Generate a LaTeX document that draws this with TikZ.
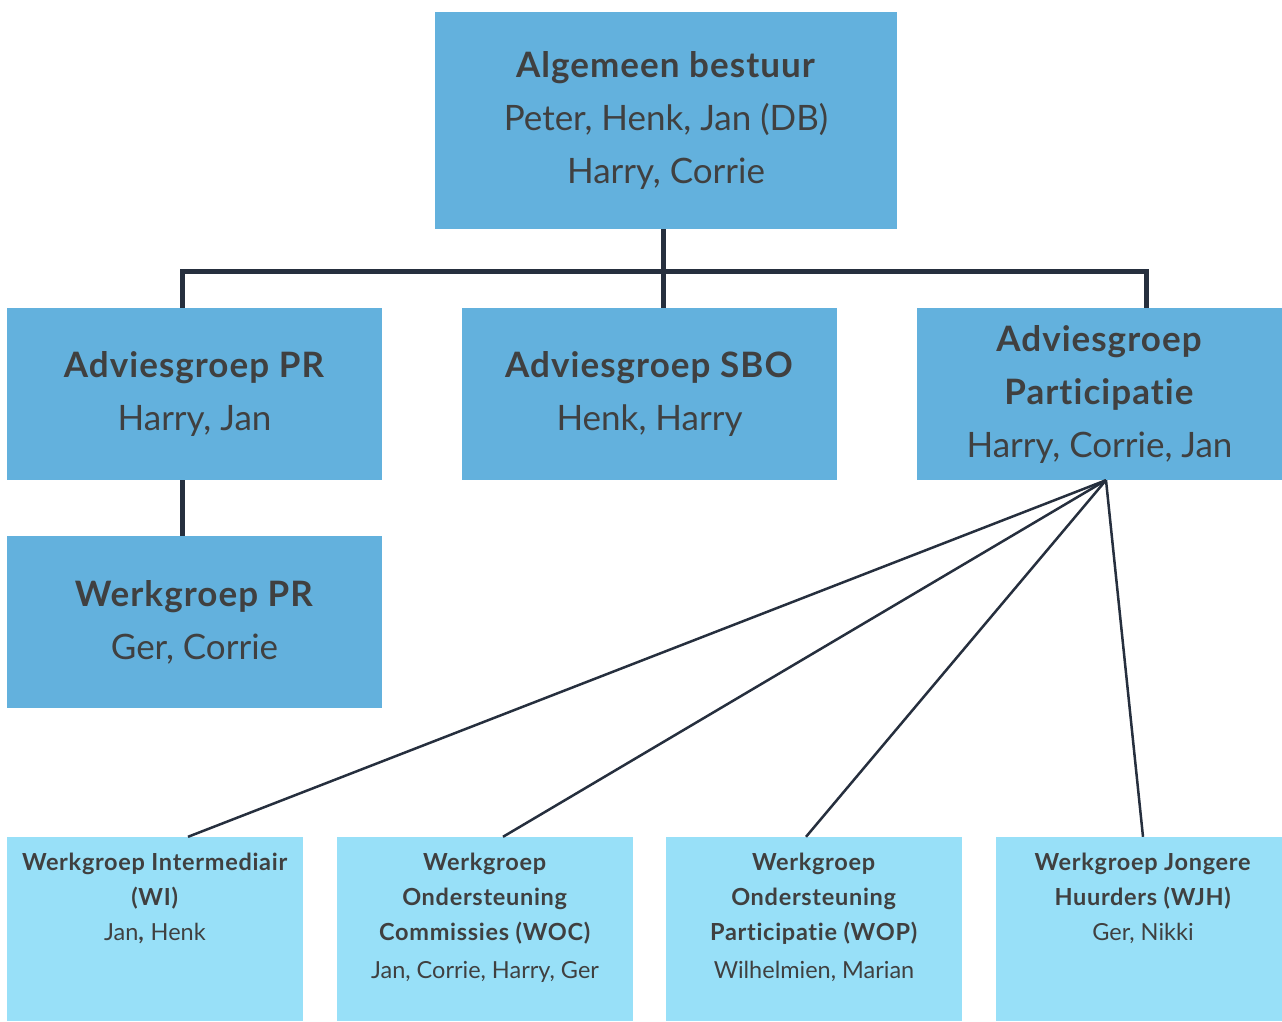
\documentclass[tikz,border=0pt]{standalone}
\usepackage{fontspec}
\setmainfont{Lato}[Ligatures=NoCommon,BoldFeatures={LetterSpace=3}]
\definecolor{topfill}{HTML}{63B1DD}
\definecolor{lowfill}{HTML}{98E0F8}
\definecolor{txt}{HTML}{404040}
\definecolor{ln}{HTML}{262F3E}
\begin{document}
\begin{tikzpicture}[x=1pt,y=-1pt,
  topbox/.style={fill=topfill,draw=none,inner sep=0pt,align=center,text=txt,
    font=\fontsize{35}{53}\selectfont},
  lowbox/.style={fill=lowfill,draw=none,inner sep=0pt},
  lowtext/.style={inner sep=0pt,anchor=north,align=center,text=txt,
    font=\fontsize{23.5}{35}\selectfont},
  thick line/.style={draw=ln,line width=5pt},
  thin line/.style={draw=ln,line width=2.5pt}]
\useasboundingbox (0,0) rectangle (1282,1021);
% top level
\node[topbox,minimum width=462,minimum height=217] (ab) at (666,120.5)
  {\textbf{Algemeen bestuur}\\Peter, Henk, Jan (DB)\\Harry, Corrie};
\node[topbox,minimum width=375,minimum height=172] (pr) at (194.5,394)
  {\textbf{Adviesgroep PR}\\Harry, Jan};
\node[topbox,minimum width=375,minimum height=172] (sbo) at (649.5,394)
  {\textbf{Adviesgroep SBO}\\Henk, Harry};
\node[topbox,minimum width=365,minimum height=172] (pa) at (1099.5,394)
  {\textbf{Adviesgroep}\\\textbf{Participatie}\\Harry, Corrie, Jan};
\node[topbox,minimum width=375,minimum height=172] (wpr) at (194.5,622)
  {\textbf{Werkgroep PR}\\Ger, Corrie};
% bottom boxes
\node[lowbox,minimum width=296,minimum height=184] (wi) at (155,929) {};
\node[lowbox,minimum width=296,minimum height=184] (woc) at (485,929) {};
\node[lowbox,minimum width=296,minimum height=184] (wop) at (814,929) {};
\node[lowbox,minimum width=286,minimum height=184] (wjh) at (1139,929) {};
\node[lowtext] (wi-t) at (155,853)
  {\textbf{Werkgroep Intermediair}\\\textbf{(WI)}\\Jan\textbf{,} Henk};
\node[lowtext] (woc-t) at (485,853)
  {\textbf{Werkgroep}\\\textbf{Ondersteuning}\\\textbf{Commissies (WOC)}\\[3pt]Jan, Corrie, Harry, Ger};
\node[lowtext] (wop-t) at (814,853)
  {\textbf{Werkgroep}\\\textbf{Ondersteuning}\\\textbf{Participatie (WOP)}\\[3pt]Wilhelmien, Marian};
\node[lowtext] (wjh-t) at (1143,853)
  {\textbf{Werkgroep Jongere}\\\textbf{Huurders (WJH)}\\Ger, Nikki};
% connectors
\coordinate (barL) at (182,271);
\coordinate (barM) at (663,271);
\coordinate (barR) at (1146,271);
\draw[thick line] (ab.south -| barM) -- (sbo.north -| barM);
\draw[thick line] (pr.north -| barL) -- (barL) -- (barR) -- (pa.north -| barR);
\draw[thick line] (pr.south -| barL) -- (wpr.north -| barL);
\coordinate (fan) at ([xshift=6.5]pa.south);
\draw[thin line] (fan) -- ([xshift=33]wi.north);
\draw[thin line] (fan) -- ([xshift=18]woc.north);
\draw[thin line] (fan) -- ([xshift=-8]wop.north);
\draw[thin line] (fan) -- ([xshift=4]wjh.north);
\end{tikzpicture}
\end{document}
